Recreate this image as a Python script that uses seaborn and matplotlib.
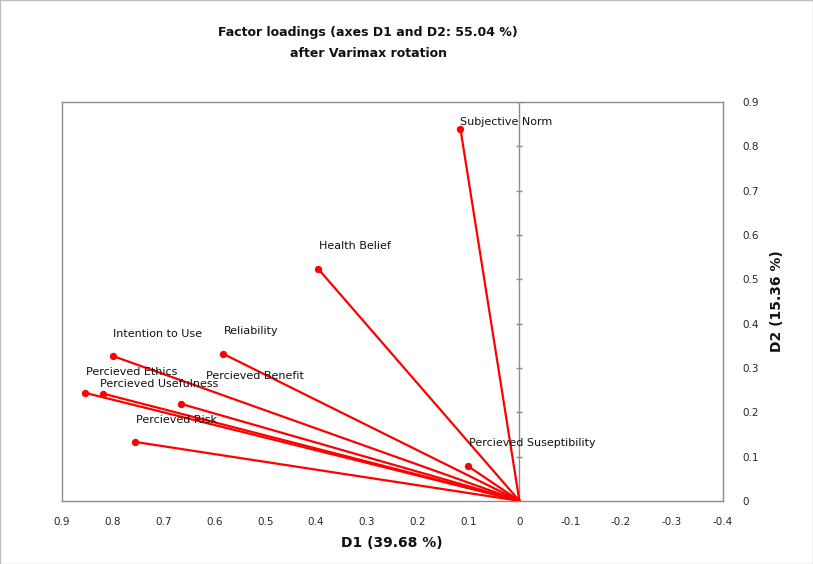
import numpy as np
import pandas as pd
import matplotlib
matplotlib.use("Agg")
import matplotlib.pyplot as plt
import seaborn as sns

sns.set_style("white")
plt.rcParams['font.family'] = ['DejaVu Sans']

# factor loadings after varimax rotation
variables = ["Subjective Norm", "Health Belief", "Intention to Use", "Reliability",
             "Percieved Ethics", "Percieved Usefulness", "Percieved Benefit",
             "Percieved Risk", "Percieved Suseptibility"]
d1 = [0.116, 0.396, 0.800, 0.583, 0.855, 0.819, 0.666, 0.756, 0.102]
d2 = [0.840, 0.524, 0.327, 0.332, 0.244, 0.242, 0.219, 0.133, 0.079]

x_ticks = [0.9, 0.8, 0.7, 0.6, 0.5, 0.4, 0.3, 0.2, 0.1, 0, -0.1, -0.2, -0.3, -0.4]
y_ticks = [0, 0.1, 0.2, 0.3, 0.4, 0.5, 0.6, 0.7, 0.8, 0.9]

# label offsets in points (dx, dy) from each loading point
offsets = [(0, 1.5), (1, 12.5), (0, 12.5), (1, 12.5), (1, 11.5), (-2, 3.5), (18, 16.5), (1, 12), (1, 13)]

# long-format frame: one segment from origin per variable
rows = []
for v, x, y in zip(variables, d1, d2):
    rows.append({"var": v, "D1": 0.0, "D2": 0.0})
    rows.append({"var": v, "D1": x, "D2": y})
seg = pd.DataFrame(rows)
pts = pd.DataFrame({"var": variables, "D1": d1, "D2": d2})

fig = plt.figure(figsize=(8.13, 5.64), dpi=100)
ax = fig.add_axes([0.076, 0.112, 0.813, 0.707])

grey = "#8c8c8c"
ax.axvline(0, color=grey, lw=1, zorder=1)
ax.scatter([0] * len(y_ticks[1:]), y_ticks[1:], marker="_", s=25, color=grey, lw=1, zorder=1)

sns.lineplot(data=seg, x="D1", y="D2", units="var", estimator=None, sort=False,
             color="red", lw=1.6, ax=ax, zorder=3)
sns.scatterplot(data=pts, x="D1", y="D2", color="red", s=28, edgecolor="red",
                linewidth=0, ax=ax, zorder=4)

for v, x, y, (dx, dy) in zip(variables, d1, d2, offsets):
    ax.annotate(v, (x, y), xytext=(dx, dy), textcoords="offset points",
                fontsize=8, color="#111111", ha="left", va="bottom", zorder=5)

ax.set_xlim(0.9, -0.4)
ax.set_ylim(0, 0.9)
ax.set_xticks(x_ticks)
ax.set_xticklabels([f"{t:g}" for t in x_ticks], fontsize=7.5)
ax.set_yticks(y_ticks)
ax.set_yticklabels([f"{t:g}" for t in y_ticks], fontsize=7.5)
ax.yaxis.tick_right()
ax.yaxis.set_label_position("right")
ax.tick_params(axis="x", direction="out", length=4, color=grey, pad=8)
ax.tick_params(axis="y", length=0, pad=14)

for s in ax.spines.values():
    s.set_color(grey)
    s.set_linewidth(1)

ax.set_xlabel("D1 (39.68 %)", fontsize=10, fontweight="bold", labelpad=6, color="#111111")
ax.set_ylabel("D2 (15.36 %)", fontsize=10, fontweight="bold", labelpad=8, color="#111111")

fig.text(0.453, 0.943, "Factor loadings (axes D1 and D2: 55.04 %)", ha="center",
         va="center", fontsize=9, fontweight="bold", color="#111111")
fig.text(0.453, 0.905, "after Varimax rotation", ha="center", va="center",
         fontsize=9, fontweight="bold", color="#111111")

fig.patches.append(plt.Rectangle((0, 0), 1, 1, transform=fig.transFigure,
                                 fill=False, edgecolor="#bfbfbf", lw=1))

fig.savefig("out.png", dpi=100)
